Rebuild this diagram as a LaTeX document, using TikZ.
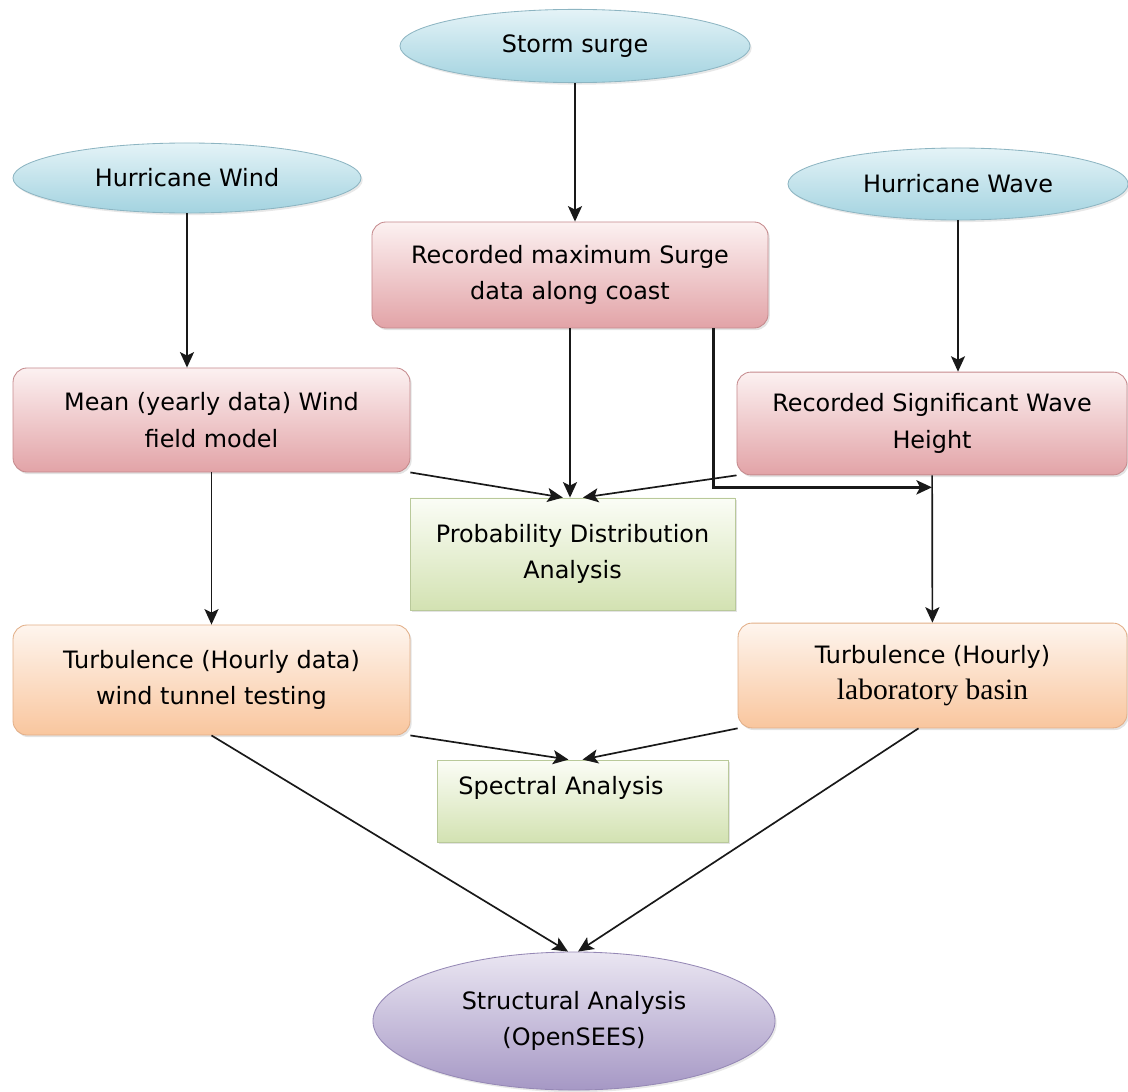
\documentclass[tikz,border=0pt]{standalone}
\usepackage{fontspec}
\setmainfont{DejaVu Sans}
\newfontfamily\basinfont{Liberation Serif}
\usepackage{tikz}
\usetikzlibrary{shapes.geometric,arrows.meta,shadows}
\usepackage{xcolor}
\definecolor{srcTop}{HTML}{E4F3F7}
\definecolor{srcBot}{HTML}{A3D3E0}
\definecolor{srcLine}{HTML}{8DB5C2}
\definecolor{dataTop}{HTML}{FCF1F1}
\definecolor{dataBot}{HTML}{E2A3A7}
\definecolor{dataLine}{HTML}{C58A8D}
\definecolor{anaTop}{HTML}{FBFDF6}
\definecolor{anaBot}{HTML}{D3E2B2}
\definecolor{anaLine}{HTML}{B9C99A}
\definecolor{turbTop}{HTML}{FEF5EE}
\definecolor{turbBot}{HTML}{F9C69E}
\definecolor{turbLine}{HTML}{E2AF88}
\definecolor{outTop}{HTML}{EAE6F2}
\definecolor{outBot}{HTML}{A698C5}
\definecolor{outLine}{HTML}{9588B5}

\begin{document}
\begin{tikzpicture}[
            x=0.025cm, y=-0.025cm,
            >=Stealth,
            every node/.style={font=\fontsize{17}{26}\selectfont},
            box/.style={
                draw,
                line width=0.6pt,
                rounded corners=0.35cm,
                align=center,
                drop shadow={shadow xshift=1.2pt, shadow yshift=-1.5pt, opacity=0.22}
            },
            oval/.style={
                draw,
                line width=0.6pt,
                ellipse,
                inner sep=0pt,
                align=center,
                drop shadow={shadow xshift=1.2pt, shadow yshift=-1.5pt, opacity=0.18}
            },
            sourceoval/.style={oval, top color=srcTop, bottom color=srcBot, draw=srcLine},
            outputoval/.style={oval, top color=outTop, bottom color=outBot, draw=outLine},
            databox/.style={box, top color=dataTop, bottom color=dataBot, draw=dataLine},
            turbbox/.style={box, top color=turbTop, bottom color=turbBot, draw=turbLine},
            anabox/.style={box, rounded corners=0pt, top color=anaTop, bottom color=anaBot, draw=anaLine},
            arrow/.style={-{Stealth[length=11pt, width=10pt, inset=2.5pt]}, line width=1.2pt, draw=black!90},
            thickarrow/.style={arrow, line width=2.6pt}
        ]
        \useasboundingbox (0,0) rectangle (1128,1091);

        %---------------- Hazard sources ----------------%
        \node[sourceoval, minimum width=8.75cm, minimum height=1.83cm] (storm) at (575,46) {Storm surge};
        \node[sourceoval, minimum width=8.7cm, minimum height=1.75cm] (hwind) at (187,178) {Hurricane Wind};
        \node[sourceoval, minimum width=8.5cm, minimum height=1.8cm] (hwave) at (958,184) {Hurricane Wave};

        %---------------- Recorded data ----------------%
        \node[databox, minimum width=9.9cm, minimum height=2.65cm] (surge) at (570,275) {Recorded maximum Surge\\data along coast};
        \node[databox, minimum width=9.92cm, minimum height=2.6cm] (mean) at (211.5,420) {Mean (yearly data) Wind\\field model};
        \node[databox, minimum width=9.75cm, minimum height=2.57cm] (sigwave) at (932,423.5) {Recorded Significant Wave\\Height};

        %---------------- Analyses ----------------%
        \node[anabox, minimum width=8.12cm, minimum height=2.8cm] (prob) at (572.5,554) {Probability Distribution\\Analysis};
        \node[turbbox, minimum width=9.92cm, minimum height=2.75cm] (turbwind) at (211.5,680) {Turbulence (Hourly data)\\wind tunnel testing};
        \node[turbbox, minimum width=9.72cm, minimum height=2.62cm] (basin) at (932.5,675.5) {Turbulence (Hourly)\\{\basinfont\fontsize{21}{26}\selectfont laboratory basin}};
        \node[anabox, minimum width=7.27cm, minimum height=2.05cm, inner xsep=0.5cm,
              text width=6.2cm, align=left, text depth=0.8cm] (spectral) at (582.5,801) {Spectral Analysis};

        %---------------- Output ----------------%
        \node[outputoval, minimum width=10.05cm, minimum height=3.45cm] (struct) at (574,1021) {Structural Analysis\\(OpenSEES)};

        %================ Sources to data =================%
        \draw[arrow] (storm) -- (storm |- surge.north);
        \draw[arrow] (hwind) -- (hwind |- mean.north);
        \draw[arrow] (hwave) -- (hwave |- sigwave.north);

        %================ Into probability analysis =================%
        \draw[arrow] (surge) -- (surge |- prob.north);
        \draw[arrow] (mean.south east) -- ([xshift=-0.24cm]prob.north);
        \draw[arrow] (sigwave.south west) -- ([xshift=0.26cm]prob.north);
        \draw[thickarrow] ([xshift=-1.375cm]surge.south east) |- ([yshift=-0.3cm]sigwave.south);

        %================ Down to turbulence =================%
        \draw[arrow] (mean) -- (turbwind);
        \draw[arrow] (sigwave) -- (basin);

        %================ Spectral and structural =================%
        \draw[arrow] (turbwind.south east) -- ([xshift=-0.35cm]spectral.north);
        \draw[arrow] (basin.south west) -- (spectral.north);
        \draw[arrow] (turbwind.south) -- ([xshift=-0.15cm]struct.north);
        \draw[arrow] ([xshift=-0.35cm]basin.south) -- ([xshift=0.1cm]struct.north);

        \end{tikzpicture}
\end{document}
